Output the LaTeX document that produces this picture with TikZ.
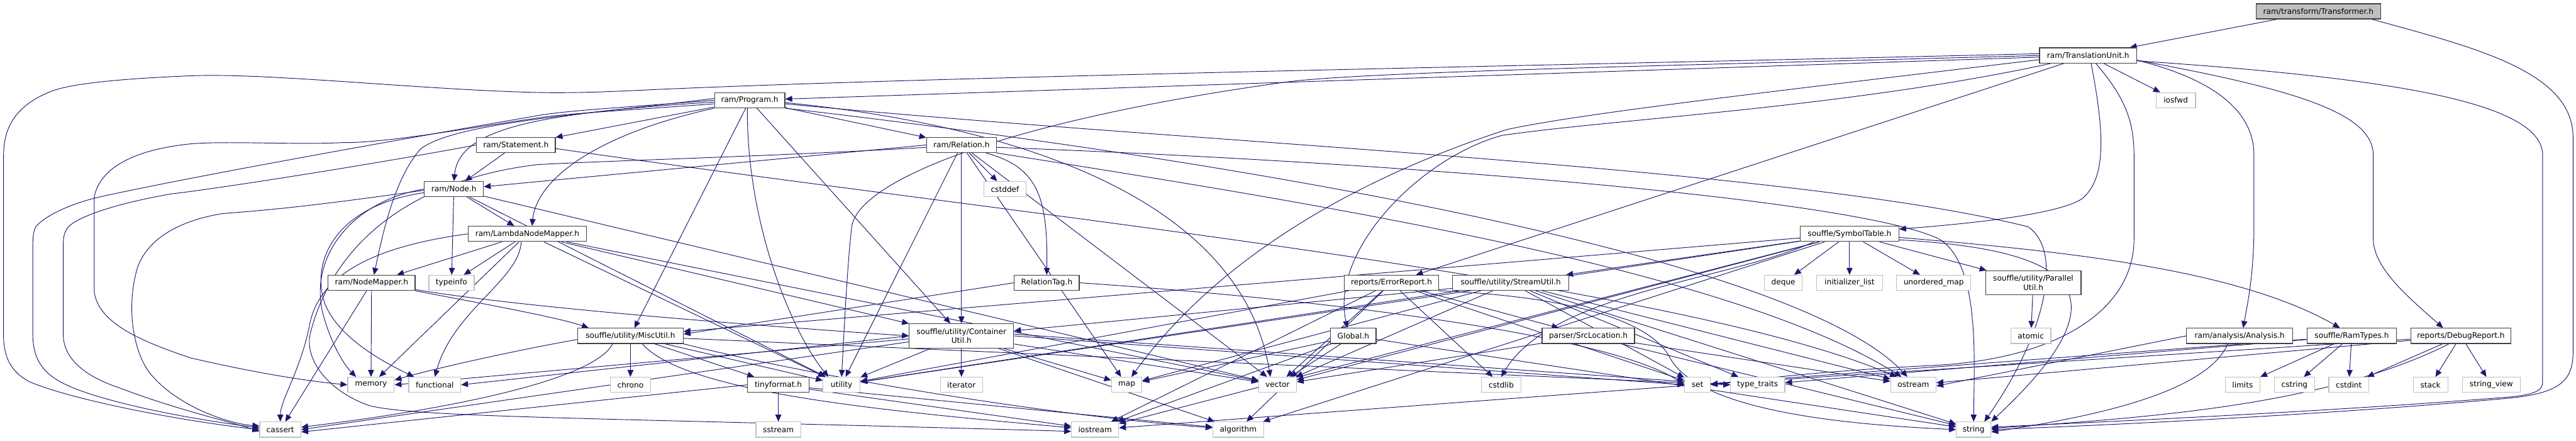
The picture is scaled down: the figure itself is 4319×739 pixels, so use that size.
\documentclass[tikz,border=0pt]{standalone}
\usepackage{fontspec}
\setmainfont{DejaVu Sans}
\usetikzlibrary{arrows.meta}
\pgfdeclarelayer{background}
\pgfdeclarelayer{edges}
\pgfsetlayers{background,edges,main}
\definecolor{edgec}{HTML}{191970}
\definecolor{docc}{HTML}{404040}
\definecolor{extc}{HTML}{BFBFBF}
\definecolor{rootf}{HTML}{BFBFBF}
\newcommand{\dfont}{\fontsize{12.8pt}{15pt}\selectfont}
\begin{document}
\begin{tikzpicture}[x=1pt,y=-1pt,
  nd/.style={line width=1.3pt, fill=white, minimum height=25.5pt, inner sep=0pt, font=\dfont, align=center},
  doc/.style={nd, draw=docc},
  ext/.style={nd, draw=extc},
  rootnd/.style={nd, draw=docc, fill=rootf},
  two/.style={minimum height=40.5pt},
  edg/.style={draw=edgec, line width=1pt, -{Triangle[length=11.5pt,width=10pt]}},
]
\begin{pgfonlayer}{background}
\fill[white] (0,0) rectangle (4319,739);
\end{pgfonlayer}
\useasboundingbox (0,0) rectangle (4319,739);

% ---------- nodes ----------
\node[rootnd, minimum width=209pt] (tr) at (3887,19) {ram/transform/Transformer.h};
\node[doc, minimum width=163pt] (tu) at (3501,93) {ram/TranslationUnit.h};
\node[ext, minimum width=66pt] (iosfwd) at (3648,168) {iosfwd};
\node[doc, minimum width=118pt] (prog) at (1257,168) {ram/Program.h};
\node[doc, minimum width=132pt] (stmt) at (865,243) {ram/Statement.h};
\node[doc, minimum width=117pt] (rel) at (1612,243) {ram/Relation.h};
\node[ext, minimum width=71pt] (cstddef) at (1685,317) {cstddef};
\node[doc, minimum width=99pt] (nodeh) at (761,317) {ram/Node.h};
\node[doc, minimum width=198pt] (lnm) at (884,392) {ram/LambdaNodeMapper.h};
\node[doc, minimum width=165pt] (symtab) at (3101,392) {souffle/SymbolTable.h};
\node[doc, minimum width=146pt] (nmap) at (623,474) {ram/NodeMapper.h};
\node[ext, minimum width=76pt] (typeinfo) at (757,474) {typeinfo};
\node[doc, minimum width=109pt] (reltag) at (1755,474) {RelationTag.h};
\node[doc, minimum width=158pt] (err) at (2333,474) {reports/ErrorReport.h};
\node[doc, minimum width=195pt] (stream) at (2533,474) {souffle/utility/StreamUtil.h};
\node[ext, minimum width=63pt] (deque) at (2990,474) {deque};
\node[ext, minimum width=111pt] (initl) at (3101,474) {initializer\_list};
\node[ext, minimum width=124pt] (umap) at (3242,474) {unordered\_map};
\node[doc, two, minimum width=160pt] (par) at (3409,474) {souffle/utility/Parallel\\Util.h};
\node[doc, minimum width=177pt] (misc) at (1057,563) {souffle/utility/MiscUtil.h};
\node[doc, two, minimum width=175pt] (cont) at (1612,563) {souffle/utility/Container\\Util.h};
\node[doc, minimum width=76pt] (global) at (2269,563) {Global.h};
\node[doc, minimum width=155pt] (src) at (2663,563) {parser/SrcLocation.h};
\node[ext, minimum width=67pt] (atomic) at (3405,563) {atomic};
\node[doc, minimum width=178pt] (ana) at (3755,563) {ram/analysis/Analysis.h};
\node[doc, minimum width=150pt] (ramt) at (3943,563) {souffle/RamTypes.h};
\node[doc, minimum width=168pt] (dbg) at (4126,563) {reports/DebugReport.h};
\node[ext, minimum width=78pt] (memory) at (622,645) {memory};
\node[ext, minimum width=87pt] (functional) at (729,645) {functional};
\node[ext, minimum width=67pt] (chrono) at (1057,645) {chrono};
\node[doc, minimum width=103pt] (tiny) at (1305,645) {tinyformat.h};
\node[ext, minimum width=62pt] (utility) at (1411,645) {utility};
\node[ext, minimum width=71pt] (iterator) at (1612,645) {iterator};
\node[ext, minimum width=51pt] (map) at (1889,645) {map};
\node[ext, minimum width=63pt] (vector) at (2142,645) {vector};
\node[ext, minimum width=66pt] (cstdlib) at (2517,645) {cstdlib};
\node[ext, minimum width=43pt] (set) at (2846,645) {set};
\node[ext, minimum width=91pt] (typetraits) at (2947,645) {type\_traits};
\node[ext, minimum width=76pt] (ostream) at (3208,645) {ostream};
\node[ext, minimum width=58pt] (limits) at (3760,645) {limits};
\node[ext, minimum width=67pt] (cstring) at (3847,645) {cstring};
\node[ext, minimum width=67pt] (cstdint) at (3938,645) {cstdint};
\node[ext, minimum width=58pt] (stack) at (4075,645) {stack};
\node[ext, minimum width=97pt] (strview) at (4177,645) {string\_view};
\node[ext, minimum width=69pt] (cassert) at (470,720) {cassert};
\node[ext, minimum width=75pt] (sstream) at (1305,720) {sstream};
\node[ext, minimum width=79pt] (iostream) at (1836,720) {iostream};
\node[ext, minimum width=85pt] (algorithm) at (2076,720) {algorithm};
\node[ext, minimum width=58pt] (string) at (3309,720) {string};

% ---------- edges ----------
\begin{pgfonlayer}{edges}
% Transformer
\draw[edg] (tr) -- (tu);
\draw[edg] ([xshift=-15pt]tr.south east) .. controls (4150,80) and (4314,120) .. (4314,230) -- (4314,590) .. controls (4314,640) and (4290,660) .. (4200,668) .. controls (3900,695) and (3550,712) .. (string.east);
% TranslationUnit
\draw[edg] (tu) -- (prog);
\draw[edg] (tu) -- (iosfwd);
\draw[edg] (tu) -- (err);
\draw[edg] ([yshift=-8pt]tu.east) .. controls (3700,130) and (3779,180) .. (3779,260) -- (3779,380) .. controls (3779,460) and (3768,510) .. ([xshift=6pt]ana.north);
\draw[edg] ([yshift=-8pt]tu.east) .. controls (3850,150) and (3979,190) .. (3979,260) -- (3979,400) .. controls (3979,450) and (4040,500) .. ([xshift=-30pt]dbg.north);
\draw[edg] ([yshift=-9pt]tu.east) .. controls (4000,130) and (4263,170) .. (4263,260) -- (4263,640) .. controls (4263,655) and (4250,662) .. (4200,666) .. controls (3900,690) and (3550,706) .. ([yshift=4pt]string.east);
\draw[edg] ([xshift=5pt]tu.south) .. controls (3530,230) and (3530,300) .. (3491,333) .. controls (3450,360) and (3300,375) .. ([yshift=8pt]symtab.east);
\draw[edg] ([xshift=13pt]tu.south) .. controls (3560,160) and (3578,200) .. (3578,260) -- (3578,400) .. controls (3578,520) and (3450,600) .. (3250,612) .. controls (3050,622) and (2950,635) .. (set.east);
\draw[edg] ([xshift=-63pt]tu.south) .. controls (3100,180) and (2700,200) .. (2518,227) .. controls (2380,265) and (2230,420) .. ([xshift=-10pt]global.north);
\draw[edg] ([yshift=-7pt]tu.west) .. controls (3000,150) and (2650,190) .. (2527,217) .. controls (2300,290) and (2050,420) .. ([xshift=8pt]map.north);
\draw[edg] (tu.west) .. controls (2800,110) and (2300,120) .. (2160,137) .. controls (1700,200) and (1440,300) .. (1428,380) .. controls (1420,450) and (1415,560) .. (utility.north);
\draw[edg] ([yshift=3pt]tu.west) .. controls (2500,112) and (1600,128) .. (1100,150) .. controls (1000,155) and (950,156) .. (900,155) .. controls (700,150) and (450,122) .. (321,127) .. controls (200,132) and (120,140) .. (86,153) .. controls (30,175) and (6,210) .. (6,260) -- (6,563) .. controls (6,600) and (20,625) .. (50,640) .. controls (120,670) and (300,705) .. (cassert.west);
% Program
\draw[edg] (prog) -- (stmt);
\draw[edg] (prog) -- (rel);
\draw[edg] ([yshift=-3pt]prog.west) .. controls (900,190) and (770,215) .. (nodeh.north);
\draw[edg] (prog.south west) .. controls (1000,225) and (900,300) .. ([xshift=8pt]lnm.north);
\draw[edg] ([yshift=3pt]prog.west) .. controls (1000,190) and (760,205) .. (705,250) .. controls (660,300) and (640,400) .. ([xshift=4pt]nmap.north);
\draw[edg] (prog) -- (misc);
\draw[edg] ([xshift=-4pt]prog.south) .. controls (1252,380) and (1330,560) .. ([xshift=-22pt]utility.north);
\draw[edg] (prog) -- (cont);
\draw[edg] (prog.west) .. controls (1050,180) and (950,185) .. (900,194) .. controls (750,220) and (350,290) .. (172,329) .. controls (120,340) and (75,362) .. (60,380) .. controls (55,390) and (55,400) .. (55,420) -- (55,560) .. controls (55,620) and (90,640) .. (150,660) .. controls (250,692) and (380,710) .. ([yshift=3pt]cassert.west);
\draw[edg] ([yshift=-6pt]prog.west) .. controls (1050,185) and (950,190) .. (900,198) .. controls (800,212) and (650,240) .. (574,239) .. controls (500,243) and (380,236) .. (321,241) .. controls (250,248) and (170,270) .. (158,330) -- (158,489) .. controls (165,540) and (230,570) .. (320,600) .. controls (450,630) and (530,640) .. (memory.west);
\draw[edg] ([yshift=-4pt]prog.east) .. controls (1700,210) and (2080,330) .. ([xshift=-12pt]vector.north);
\draw[edg] ([yshift=-6pt]prog.east) .. controls (2000,240) and (3000,280) .. (3400,380) .. controls (3460,420) and (3430,560) .. ([xshift=18pt]string.north);
\draw[edg] (prog.south east) .. controls (2000,260) and (3000,420) .. ([xshift=-10pt]ostream.north);
% Statement
\draw[edg] (stmt) -- (nodeh);
\draw[edg] (stmt.west) .. controls (600,280) and (350,318) .. (287,325) .. controls (200,340) and (132,362) .. (115,380) .. controls (106,390) and (106,400) .. (106,420) -- (106,560) .. controls (106,600) and (140,630) .. (200,650) .. controls (300,688) and (380,705) .. ([yshift=-3pt]cassert.west);
\draw[edg] ([yshift=-6pt]stmt.east) .. controls (1700,360) and (2800,470) .. ([xshift=-28pt]ostream.north);
% Node
\draw[edg] (nodeh) -- (lnm);
\draw[edg] (nodeh) -- (typeinfo);
\draw[edg] ([yshift=-2pt]nodeh.west) .. controls (560,340) and (480,350) .. (373,358) .. controls (300,370) and (247,400) .. (230,450) .. controls (210,520) and (225,600) .. (258,633) .. controls (300,680) and (380,710) .. ([yshift=6pt]cassert.west);
\draw[edg] (nodeh.west) .. controls (600,335) and (520,420) .. (540,520) .. controls (555,580) and (580,615) .. ([xshift=-25pt]memory.north);
\draw[edg] ([yshift=-6pt]nodeh.west) .. controls (560,345) and (520,440) .. (545,510) .. controls (570,570) and (650,610) .. ([xshift=-35pt]functional.north);
\draw[edg] (nodeh) -- (utility);
\draw[edg] (nodeh) -- (vector);
% LambdaNodeMapper
\draw[edg] (lnm) -- (nmap);
\draw[edg] (lnm) -- (typeinfo);
\draw[edg] (lnm.west) .. controls (650,410) and (540,450) .. (520,540) .. controls (505,620) and (470,670) .. (cassert.north);
\draw[edg] (lnm) -- (memory);
\draw[edg] ([xshift=-10pt]lnm.south) .. controls (870,470) and (760,520) .. (functional.north);
\draw[edg] (lnm) -- (utility);
\draw[edg] (lnm) -- (cont);
\draw[edg] (lnm) -- (vector);
% NodeMapper
\draw[edg] (nmap) -- (memory);
\draw[edg] (nmap) -- (cassert);
\draw[edg] (nmap.south east) .. controls (760,500) and (930,530) .. ([xshift=-70pt]misc.north);
\draw[edg] ([yshift=2pt]nmap.south east) .. controls (900,520) and (1400,555) .. (cont.west);
% RelationTag
\draw[edg] (reltag.west) -- ([yshift=3pt]misc.east);
\draw[edg] (reltag.east) .. controls (2200,500) and (2700,560) .. (set.west);
% Relation
\draw[edg] (rel.west) -- ([yshift=4pt]nodeh.east);
\draw[edg] (rel) -- (cont);
\draw[edg] ([xshift=41pt]rel.south) .. controls (1740,280) and (1757,330) .. (reltag.north);
\draw[edg] (rel) -- (cstddef);
\draw[edg] (rel) -- (map);
\draw[edg] (rel) -- (vector);
\draw[edg] (rel) -- (utility);
\draw[edg] ([yshift=-4pt]rel.west) .. controls (1300,262) and (1000,270) .. (900,276) .. controls (700,300) and (560,400) .. (520,560) .. controls (510,610) and (560,660) .. (620,680) .. controls (700,700) and (1000,700) .. ([yshift=-3pt]iostream.west);
\draw[edg] ([yshift=-4pt]rel.east) .. controls (2300,270) and (3100,330) .. (3250,400) .. controls (3320,440) and (3310,600) .. (string.north);
\draw[edg] (rel.south east) .. controls (2200,340) and (2900,450) .. ([xshift=-20pt]ostream.north);
% ContainerUtil
\draw[edg] (cont) -- (utility);
\draw[edg] (cont) -- (iterator);
\draw[edg] (cont) -- (map);
\draw[edg] (cont) -- (vector);
\draw[edg] (cont) -- (algorithm);
\draw[edg] (cont.west) -- (functional.east);
\draw[edg] ([yshift=-5pt]cont.west) -- (memory.east);
\draw[edg] ([yshift=-10pt]cont.west) -- (cassert.east);
\draw[edg] ([yshift=3pt]cont.east) -- (typetraits.west);
\draw[edg] (cont.east) -- (set.west);
% MiscUtil
\draw[edg] (misc) -- (tiny);
\draw[edg] (misc) -- (chrono);
\draw[edg] (misc) -- (utility);
\draw[edg] ([xshift=-30pt]misc.south) .. controls (1000,630) and (800,680) .. ([yshift=4pt]cassert.east);
\draw[edg] ([yshift=-6pt]misc.west) .. controls (850,590) and (720,620) .. ([yshift=8pt]memory.east);
\draw[edg] ([xshift=20pt]misc.south) .. controls (1150,660) and (1500,690) .. ([yshift=3pt]iostream.west);
\draw[edg] ([yshift=-4pt]misc.east) -- (typetraits.west);
\draw[edg] (misc.south east) .. controls (1400,640) and (1800,700) .. ([yshift=3pt]algorithm.west);
% tinyformat
\draw[edg] (tiny) -- (sstream);
\draw[edg] (tiny.west) -- ([yshift=-4pt]cassert.east);
\draw[edg] (tiny) -- (iostream);
\draw[edg] (tiny) -- (algorithm);
% StreamUtil
\draw[edg] (stream) -- (cont);
\draw[edg] (stream) -- (map);
\draw[edg] (stream) -- (ostream);
\draw[edg] (stream) -- (set);
\draw[edg] (stream) -- (string);
\draw[edg] (stream) -- (typetraits);
\draw[edg] (stream) -- (utility);
\draw[edg] (stream) -- (vector);
% ErrorReport
\draw[edg] (err) -- (src);
\draw[edg] (err) -- (cstdlib);
\draw[edg] (err) -- (algorithm);
\draw[edg] (err) -- (iostream);
\draw[edg] (err) -- (set);
\draw[edg] (err.south east) .. controls (2700,500) and (2780,560) .. (2800,600) .. controls (2850,690) and (3100,712) .. (string.west);
\draw[edg] (err) -- (utility);
\draw[edg] (err) -- (vector);
% Global
\draw[edg] (global) -- (vector);
\draw[edg] (global) -- (map);
\draw[edg] (global) -- (iostream);
\draw[edg] (global) -- (string);
% SrcLocation
\draw[edg] (src) -- (string);
\draw[edg] (src) -- (ostream);
\draw[edg] (src) -- (vector);
% SymbolTable
\draw[edg] (symtab) -- (deque);
\draw[edg] (symtab) -- (initl);
\draw[edg] (symtab) -- (umap);
\draw[edg] (symtab) -- (par);
\draw[edg] (symtab) -- (stream);
\draw[edg] ([yshift=-6pt]symtab.east) .. controls (3450,420) and (3750,450) .. ([xshift=-20pt]ramt.north);
\draw[edg] (symtab) -- (misc);
\draw[edg] ([xshift=-60pt]symtab.south) .. controls (2900,470) and (2600,490) .. (cstdlib.north);
\draw[edg] ([yshift=-10pt]symtab.east) .. controls (3500,420) and (3560,500) .. (string.north east);
\draw[edg] (symtab) -- (iostream);
\draw[edg] (symtab) -- (utility);
\draw[edg] (symtab) -- (vector);
\draw[edg] (symtab) -- (algorithm);
% ParallelUtil
\draw[edg] (par) -- (atomic);
% Analysis
\draw[edg] (ana.west) -- ([yshift=-2pt]ostream.east);
\draw[edg] ([xshift=-20pt]ana.south) .. controls (3700,660) and (3500,700) .. ([yshift=-4pt]string.east);
% RamTypes
\draw[edg] (ramt) -- (limits);
\draw[edg] (ramt) -- (cstring);
\draw[edg] (ramt) -- (cstdint);
\draw[edg] (ramt) -- (iostream);
\draw[edg] (ramt) -- (typetraits);
% DebugReport
\draw[edg] (dbg) -- (cstdint);
\draw[edg] (dbg) -- (stack);
\draw[edg] (dbg) -- (strview);
\draw[edg] ([xshift=-20pt]dbg.south) .. controls (3900,680) and (3600,700) .. ([yshift=2pt]string.east);
\draw[edg] (dbg) -- (ostream);
\draw[edg] (dbg) -- (set);
\end{pgfonlayer}
\end{tikzpicture}
\end{document}
